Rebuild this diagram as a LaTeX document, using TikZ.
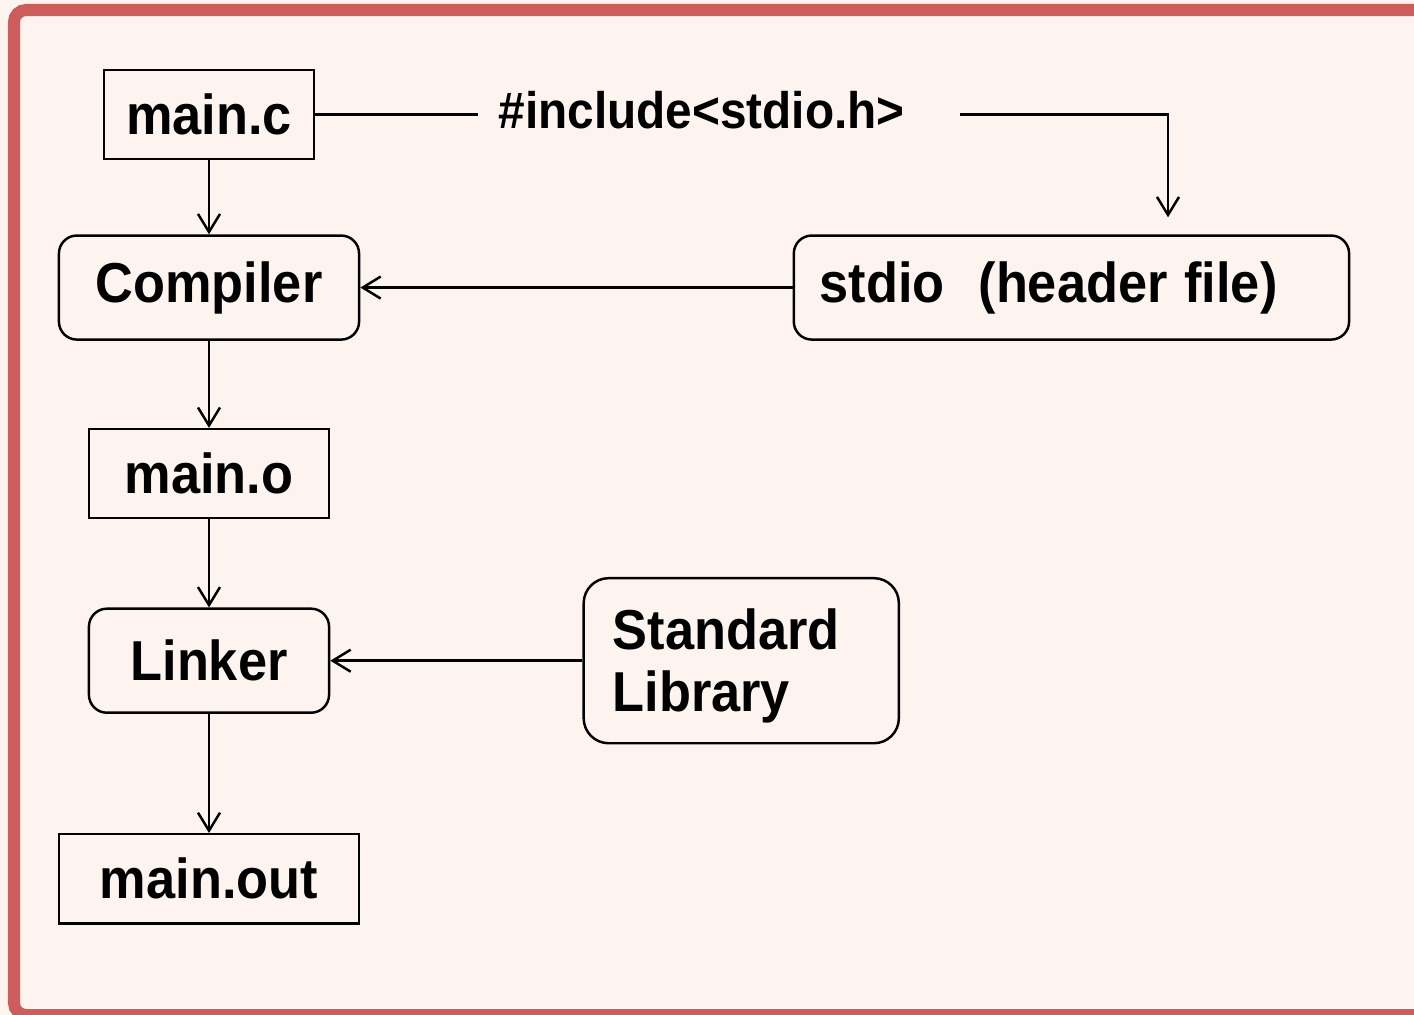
\documentclass[tikz,border=0pt]{standalone}
\usepackage{fontspec}
\setmainfont{Liberation Sans}[FakeStretch=0.93]
\usetikzlibrary{arrows.meta, positioning}
\definecolor{framered}{RGB}{205, 92, 92}
\definecolor{paper}{RGB}{254, 244, 239}
\tikzset{
    file/.style={rectangle, draw, line width=0.7pt, minimum height=0.89cm, inner sep=0pt, font={\bfseries\fontsize{16}{17.6}\selectfont}},
    tool/.style={file, rounded corners=0.18cm, minimum height=1.04cm},
    line/.style={draw, line width=0.7pt, -{Straight Barb[length=1.8mm, width=2.2mm]}}
}

\begin{document}
\begin{tikzpicture}[x=0.01cm, y=-0.01cm]
    \fill[paper] (0,0) rectangle (1414,1015);
    \useasboundingbox (0,0) rectangle (1414,1015);
    \draw[framered, line width=0.12cm, rounded corners=0.12cm] (14,10) rectangle (1440,1015);

    \node[file, minimum width=2.1cm] (mainc) at (209,114.5) {main.c};
    \node[tool, minimum width=3cm, below=0.74cm of mainc] (compiler) {Compiler};
    \node[file, minimum width=2.4cm, below=0.87cm of compiler] (maino) {main.o};
    \node[tool, minimum width=2.4cm, below=0.88cm of maino] (linker) {Linker};
    \node[file, minimum width=3cm, below=1.19cm of linker] (mainout) {main.out};

    \node[tool, text width=5.03cm, inner xsep=0.26cm, align=left, right=4.32cm of compiler] (header) {\spaceskip=0.3em stdio\ \ (header file)};
    \node[tool, text width=2.57cm, inner xsep=0.29cm, align=left, text height=0.51cm, minimum height=1.65cm, rounded corners=0.25cm, right=2.52cm of linker] (stdlib) {Standard\\Library};

    \node[font={\bfseries\fontsize{14.6}{17}\selectfont}, anchor=west, inner xsep=0.2cm] (incl) at (478,110) {\#include<stdio.h>};

    \draw[line] (mainc) -- (compiler);
    \draw[line] (compiler) -- (maino);
    \draw[line] (maino) -- (linker);
    \draw[line] (linker) -- (mainout);
    \draw[line] (header) -- (compiler);
    \draw[line] (stdlib) -- (linker);
    \draw[line, -] (mainc.east) -- (mainc.east -| incl.west);
    \draw[line, shorten >=0.17cm] ([xshift=0.35cm]incl.east |- mainc.east) -| ([xshift=0.965cm]header.north);
\end{tikzpicture}
\end{document}
